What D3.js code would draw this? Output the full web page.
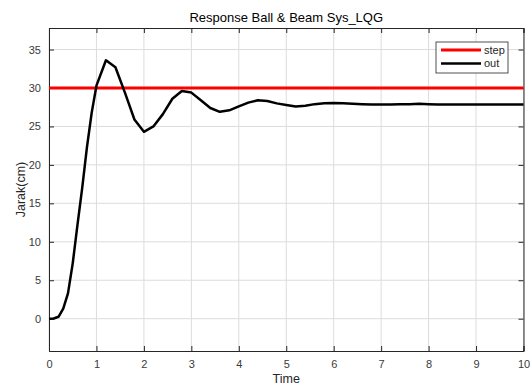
<!DOCTYPE html>
<html>
<head>
<meta charset="utf-8">
<script src="https://cdn.jsdelivr.net/npm/d3@7"></script>
<style>
  body { margin: 0; background: #fff; }
  text { font-family: "Liberation Sans", Arial, sans-serif; }
</style>
</head>
<body>
<div id="chart"></div>
<script>
// response samples
const time = [0, 0.1, 0.2, 0.3, 0.4, 0.5, 0.6, 0.7, 0.8, 0.9, 1.0,
  1.2, 1.4, 1.6, 1.8, 2.0, 2.2, 2.4, 2.6, 2.8, 3.0,
  3.2, 3.4, 3.6, 3.8, 4.0, 4.2, 4.4, 4.6, 4.8, 5.0,
  5.2, 5.4, 5.6, 5.8, 6.0, 6.2, 6.4, 6.6, 6.8, 7.0,
  7.2, 7.4, 7.6, 7.8, 8.0, 8.2, 8.4, 8.6, 8.8, 9.0,
  9.2, 9.4, 9.6, 9.8, 10.0];
const out = [0, 0.03, 0.25, 1.3, 3.3, 7.2, 12.2, 17.0, 22.3, 26.8, 30.3,
  33.6, 32.7, 29.4, 25.9, 24.3, 25.0, 26.6, 28.6, 29.6, 29.4,
  28.4, 27.4, 26.9, 27.1, 27.6, 28.1, 28.4, 28.3, 28.0, 27.8,
  27.6, 27.7, 27.9, 28.0, 28.05, 28.0, 27.95, 27.9, 27.85, 27.85,
  27.85, 27.9, 27.9, 27.95, 27.9, 27.85, 27.85, 27.85, 27.85, 27.85,
  27.85, 27.85, 27.85, 27.85, 27.85];
const stepLevel = 30;
const xTicks = [0, 1, 2, 3, 4, 5, 6, 7, 8, 9, 10];
const yTicks = [0, 5, 10, 15, 20, 25, 30, 35];
const legendNames = ['step', 'out'];

let width = 531, height = 385;
let margin = { top: 28, right: 7.5, bottom: 34, left: 49 };
let w = width - margin.left - margin.right;
let h = height - margin.top - margin.bottom;

let svg = d3.select('#chart').append('svg')
  .attr('width', width)
  .attr('height', height);

let x = d3.scaleLinear().domain([0, 10]).range([0, w]);
let y = d3.scaleLinear().domain([-4.2, 37.8]).range([h, 0]);

let g = svg.append('g')
  .attr('transform', 'translate(' + margin.left + ',' + margin.top + ')');

// grid
g.append('g').selectAll('line').data(xTicks).enter().append('line')
  .attr('x1', d => x(d)).attr('x2', d => x(d))
  .attr('y1', 0).attr('y2', h)
  .attr('stroke', '#dcdcdc').attr('stroke-width', 1);
g.append('g').selectAll('line').data(yTicks).enter().append('line')
  .attr('x1', 0).attr('x2', w)
  .attr('y1', d => y(d)).attr('y2', d => y(d))
  .attr('stroke', '#dcdcdc').attr('stroke-width', 1);

// axes
let axisColor = '#262626';
let xAxis = g.append('g').attr('transform', 'translate(0,' + h + ')')
  .call(d3.axisBottom(x).tickValues(xTicks).tickSize(-5).tickPadding(9).tickFormat(d3.format('d')));
let xTop = g.append('g')
  .call(d3.axisTop(x).tickValues(xTicks).tickSize(-5).tickFormat(''));
let yAxis = g.append('g')
  .call(d3.axisLeft(y).tickValues(yTicks).tickSize(-5).tickPadding(8).tickFormat(d3.format('d')));
let yRight = g.append('g').attr('transform', 'translate(' + w + ',0)')
  .call(d3.axisRight(y).tickValues(yTicks).tickSize(-5).tickFormat(''));

[xAxis, xTop, yAxis, yRight].forEach(a => {
  a.select('.domain').attr('stroke', axisColor).attr('stroke-width', 1);
  a.selectAll('.tick line').attr('stroke', axisColor);
  a.selectAll('.tick text').attr('fill', '#3a3a3a').style('font-size', '11px');
});

// step line
g.append('line')
  .attr('x1', x(0)).attr('x2', x(10))
  .attr('y1', y(stepLevel)).attr('y2', y(stepLevel))
  .attr('stroke', '#ff0000').attr('stroke-width', 3);

// output
let line = d3.line()
  .x((d, i) => x(time[i]))
  .y(d => y(d));
g.append('path')
  .datum(out)
  .attr('d', line)
  .attr('fill', 'none')
  .attr('stroke', '#000')
  .attr('stroke-width', 2.5)
  .attr('stroke-linejoin', 'round');

// legend
let legend = svg.append('g').attr('transform', 'translate(436,42)');
legend.append('rect')
  .attr('width', 72).attr('height', 31)
  .attr('fill', '#fff').attr('stroke', '#262626').attr('stroke-width', 0.8);
let lcolors = ['#ff0000', '#000'];
legendNames.forEach((n, i) => {
  legend.append('line')
    .attr('x1', 5).attr('x2', 45)
    .attr('y1', 8 + i * 13.5).attr('y2', 8 + i * 13.5)
    .attr('stroke', lcolors[i]).attr('stroke-width', i ? 2.5 : 3);
  legend.append('text')
    .attr('x', 48).attr('y', 8 + i * 13.5)
    .attr('dy', '0.35em')
    .style('font-size', '11px').attr('fill', '#262626')
    .text(n);
});

// title and labels
svg.append('text')
  .attr('x', margin.left + w / 2).attr('y', 22)
  .attr('text-anchor', 'middle')
  .style('font-size', '13px').attr('fill', '#000')
  .text('Response Ball & Beam Sys_LQG');
svg.append('text')
  .attr('x', margin.left + w / 2).attr('y', 383)
  .attr('text-anchor', 'middle')
  .style('font-size', '12.5px').attr('fill', '#262626')
  .text('Time');
svg.append('text')
  .attr('transform', 'translate(25,' + (margin.top + h / 2) + ') rotate(-90)')
  .attr('text-anchor', 'middle')
  .style('font-size', '12.5px').attr('fill', '#262626')
  .text('Jarak(cm)');
</script>
</body>
</html>
